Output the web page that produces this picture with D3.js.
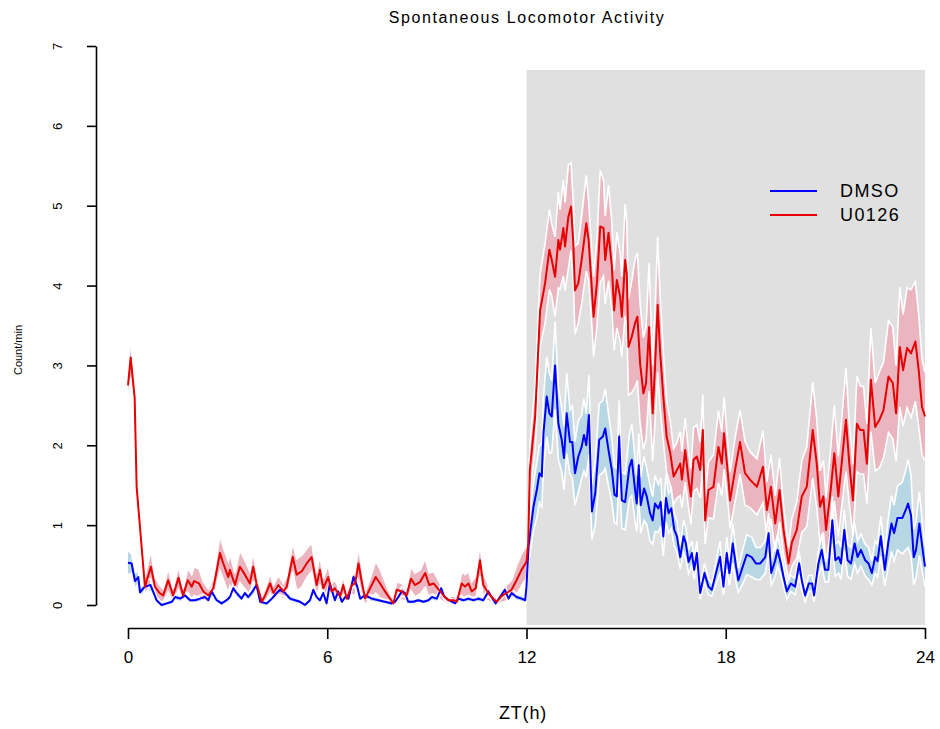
<!DOCTYPE html>
<html>
<head>
<meta charset="utf-8">
<script src="https://cdn.jsdelivr.net/npm/d3@7"></script>
<style>
  body { margin: 0; background: #fff; }
  svg text { font-family: "Liberation Sans", Arial, sans-serif; fill: #000; }
</style>
</head>
<body>
<div id="chart"></div>
<script>
// rows are [ZT hour, mean count/min, SE]
var dmso = [
  [0,0.53,0.15],[0.11,0.52,0.12],[0.21,0.3,0.1],[0.31,0.35,0.08],[0.36,0.16,0.06],[0.51,0.23,0.06],[0.68,0.25,0.08],[0.86,0.06,0.04],
  [1.01,0.0,0.03],[1.17,0.02,0.03],[1.32,0.04,0.03],[1.42,0.1,0.04],[1.57,0.08,0.04],[1.72,0.12,0.04],[1.87,0.06,0.03],[2.02,0.06,0.03],
  [2.17,0.08,0.04],[2.32,0.1,0.04],[2.42,0.06,0.03],[2.52,0.17,0.06],[2.67,0.06,0.03],[2.82,0.02,0.03],[2.97,0.06,0.03],[3.07,0.1,0.04],
  [3.17,0.21,0.06],[3.27,0.15,0.05],[3.42,0.08,0.04],[3.52,0.15,0.05],[3.62,0.1,0.04],[3.75,0.17,0.06],[3.87,0.25,0.08],[3.98,0.04,0.03],
  [4.18,0.02,0.03],[4.33,0.08,0.04],[4.48,0.15,0.05],[4.58,0.19,0.06],[4.73,0.15,0.05],[4.88,0.08,0.04],[5.03,0.06,0.03],[5.18,0.04,0.03],
  [5.33,0.0,0.03],[5.48,0.06,0.03],[5.58,0.19,0.06],[5.68,0.1,0.04],[5.78,0.06,0.03],[5.88,0.15,0.05],[5.98,0.02,0.03],[6.08,0.27,0.08],
  [6.23,0.06,0.03],[6.33,0.17,0.06],[6.44,0.04,0.03],[6.54,0.1,0.04],[6.64,0.08,0.04],[6.79,0.35,0.1],[6.89,0.25,0.08],[6.99,0.08,0.04],
  [7.14,0.12,0.04],[7.34,0.08,0.04],[7.54,0.06,0.03],[7.74,0.04,0.03],[7.94,0.02,0.03],[8.04,0.04,0.03],[8.14,0.1,0.04],[8.24,0.17,0.06],
  [8.34,0.15,0.05],[8.44,0.04,0.03],[8.59,0.04,0.03],[8.74,0.06,0.03],[8.9,0.04,0.03],[9.05,0.06,0.03],[9.15,0.1,0.04],[9.3,0.08,0.04],
  [9.43,0.21,0.06],[9.53,0.1,0.04],[9.67,0.06,0.03],[9.85,0.02,0.03],[9.95,0.08,0.04],[10.1,0.06,0.03],[10.25,0.08,0.04],[10.4,0.06,0.03],
  [10.55,0.08,0.04],[10.7,0.06,0.03],[10.85,0.17,0.06],[10.95,0.1,0.04],[11.07,0.02,0.03],[11.2,0.1,0.04],[11.35,0.19,0.06],[11.46,0.08,0.04],
  [11.55,0.15,0.05],[11.7,0.1,0.04],[11.85,0.08,0.04],[11.96,0.06,0.03],[12.0,0.23,0.08],[12.06,0.73,0.2],[12.11,0.9,0.25],[12.21,1.23,0.3],
  [12.31,1.44,0.35],[12.39,1.65,0.35],[12.46,1.61,0.4],[12.51,2.15,0.45],[12.61,2.61,0.5],[12.69,2.4,0.5],[12.76,2.36,0.45],[12.86,3.0,0.55],
  [12.96,2.27,0.45],[13.06,2.07,0.4],[13.13,1.84,0.4],[13.21,2.4,0.5],[13.31,2.04,0.4],[13.38,2.04,0.45],[13.46,1.65,0.4],[13.56,1.86,0.45],
  [13.66,1.98,0.4],[13.73,2.13,0.45],[13.8,2.0,0.4],[13.88,2.38,0.5],[13.97,1.17,0.35],[14.07,1.4,0.4],[14.19,2.07,0.45],[14.3,2.11,0.45],
  [14.37,2.21,0.5],[14.47,1.94,0.45],[14.57,1.69,0.4],[14.65,1.38,0.35],[14.72,1.36,0.35],[14.79,2.11,0.45],[14.87,1.31,0.35],[14.97,1.29,0.35],
  [15.1,1.73,0.4],[15.17,1.82,0.45],[15.27,1.44,0.4],[15.32,1.27,0.35],[15.38,1.75,0.4],[15.44,1.25,0.35],[15.54,1.46,0.4],[15.62,1.36,0.35],
  [15.72,1.15,0.35],[15.8,1.06,0.3],[15.87,1.27,0.35],[15.97,1.21,0.3],[16.04,1.29,0.3],[16.12,0.86,0.25],[16.2,1.34,0.3],[16.28,1.15,0.25],
  [16.36,1.21,0.25],[16.45,0.94,0.2],[16.53,0.86,0.2],[16.63,0.6,0.15],[16.73,0.86,0.2],[16.8,0.77,0.2],[16.88,0.54,0.15],[16.98,0.65,0.15],
  [17.05,0.44,0.12],[17.13,0.65,0.15],[17.23,0.15,0.08],[17.36,0.4,0.12],[17.48,0.23,0.1],[17.58,0.19,0.08],[17.73,0.44,0.15],[17.83,0.6,0.2],
  [17.93,0.23,0.1],[18.03,0.65,0.2],[18.11,0.4,0.15],[18.21,0.77,0.25],[18.31,0.48,0.2],[18.38,0.31,0.15],[18.48,0.44,0.2],[18.63,0.63,0.25],
  [18.78,0.6,0.25],[18.91,0.52,0.2],[19.04,0.52,0.2],[19.19,0.6,0.2],[19.29,0.9,0.25],[19.37,0.4,0.15],[19.49,0.56,0.2],[19.56,0.69,0.2],
  [19.66,0.52,0.15],[19.74,0.35,0.12],[19.84,0.17,0.1],[19.96,0.27,0.1],[20.09,0.23,0.1],[20.21,0.52,0.15],[20.29,0.31,0.12],[20.39,0.12,0.08],
  [20.5,0.27,0.1],[20.6,0.27,0.1],[20.66,0.12,0.08],[20.79,0.52,0.15],[20.89,0.69,0.2],[20.99,0.44,0.15],[21.09,0.44,0.15],[21.21,1.06,0.3],
  [21.3,0.56,0.2],[21.4,0.6,0.2],[21.47,0.52,0.2],[21.57,0.94,0.25],[21.67,0.56,0.2],[21.77,0.52,0.2],[21.88,0.77,0.25],[21.97,0.6,0.2],
  [22.07,0.69,0.2],[22.2,0.56,0.2],[22.3,0.52,0.2],[22.4,0.4,0.15],[22.5,0.6,0.2],[22.57,0.55,0.2],[22.67,0.86,0.25],[22.79,0.44,0.2],
  [22.89,0.77,0.3],[22.99,1.02,0.35],[23.07,0.9,0.35],[23.17,1.09,0.4],[23.32,1.09,0.45],[23.42,1.19,0.5],[23.49,1.27,0.55],[23.58,1.12,0.5],
  [23.66,0.6,0.35],[23.73,0.69,0.35],[23.83,1.02,0.4],[23.93,0.69,0.3],[24.0,0.48,0.25]
];

var u0126 = [
  [0,2.75,0.15],[0.08,3.1,0.25],[0.2,2.6,0.15],[0.26,1.48,0.12],[0.36,0.98,0.12],[0.51,0.23,0.12],[0.69,0.48,0.2],[0.81,0.23,0.12],
  [0.95,0.15,0.1],[1.06,0.12,0.08],[1.21,0.31,0.15],[1.36,0.12,0.08],[1.52,0.34,0.15],[1.66,0.12,0.08],[1.8,0.31,0.15],[1.92,0.23,0.15],
  [1.99,0.3,0.18],[2.14,0.27,0.18],[2.27,0.17,0.12],[2.42,0.12,0.08],[2.57,0.21,0.12],[2.77,0.65,0.22],[2.87,0.52,0.2],[3.02,0.35,0.2],
  [3.07,0.44,0.2],[3.22,0.25,0.15],[3.37,0.48,0.2],[3.52,0.38,0.18],[3.67,0.27,0.15],[3.77,0.48,0.18],[3.87,0.27,0.15],[4.03,0.04,0.06],
  [4.13,0.12,0.08],[4.28,0.27,0.12],[4.38,0.15,0.1],[4.53,0.25,0.12],[4.68,0.17,0.1],[4.78,0.23,0.12],[4.96,0.6,0.18],[5.08,0.38,0.2],
  [5.23,0.42,0.2],[5.38,0.52,0.18],[5.53,0.6,0.18],[5.68,0.25,0.15],[5.78,0.44,0.18],[5.88,0.21,0.12],[6.03,0.35,0.15],[6.13,0.17,0.1],
  [6.23,0.21,0.1],[6.39,0.11,0.08],[6.48,0.25,0.12],[6.59,0.08,0.06],[6.74,0.25,0.12],[6.84,0.27,0.15],[6.94,0.52,0.2],[7.04,0.29,0.18],
  [7.14,0.08,0.08],[7.29,0.21,0.12],[7.46,0.35,0.2],[7.59,0.27,0.18],[7.74,0.17,0.12],[7.89,0.08,0.06],[7.99,0.02,0.05],[8.09,0.19,0.1],
  [8.24,0.17,0.1],[8.39,0.12,0.08],[8.52,0.33,0.15],[8.64,0.25,0.15],[8.8,0.29,0.15],[8.95,0.4,0.18],[9.07,0.25,0.15],[9.2,0.27,0.15],
  [9.4,0.17,0.1],[9.5,0.12,0.08],[9.65,0.06,0.05],[9.8,0.06,0.05],[9.9,0.04,0.05],[10.05,0.27,0.15],[10.15,0.23,0.15],[10.25,0.27,0.15],
  [10.35,0.17,0.12],[10.47,0.21,0.15],[10.6,0.56,0.2],[10.7,0.25,0.15],[10.85,0.15,0.1],[11.0,0.08,0.06],[11.1,0.04,0.05],[11.25,0.11,0.08],
  [11.4,0.15,0.1],[11.55,0.19,0.12],[11.7,0.31,0.18],[11.85,0.44,0.2],[12.0,0.54,0.2],[12.05,0.75,0.2],[12.1,1.69,0.3],[12.26,2.36,0.4],
  [12.41,3.69,0.45],[12.56,4.03,0.5],[12.69,4.45,0.5],[12.76,4.32,0.45],[12.86,4.11,0.5],[12.96,4.57,0.6],[13.01,4.45,0.5],[13.11,4.72,0.6],
  [13.16,4.49,0.55],[13.26,4.86,0.65],[13.34,4.99,0.55],[13.41,4.53,0.5],[13.46,3.94,0.55],[13.56,4.03,0.5],[13.66,4.32,0.55],[13.8,4.78,0.6],
  [13.87,4.57,0.5],[13.97,3.94,0.45],[14.02,3.61,0.5],[14.12,4.03,0.55],[14.22,4.74,0.7],[14.32,4.72,0.6],[14.37,4.32,0.55],[14.47,4.66,0.6],
  [14.57,4.24,0.55],[14.64,3.69,0.5],[14.72,4.07,0.6],[14.82,3.86,0.55],[14.87,3.61,0.5],[14.97,4.32,0.7],[15.02,4.15,0.65],[15.07,3.23,0.6],
  [15.17,3.36,0.7],[15.27,3.53,0.8],[15.34,3.61,0.8],[15.42,3.03,0.75],[15.52,2.65,0.7],[15.6,2.78,0.7],[15.69,3.48,0.8],[15.8,2.4,0.6],
  [15.87,2.98,0.7],[15.95,3.76,0.85],[16.02,3.19,0.7],[16.12,2.61,0.55],[16.22,2.11,0.45],[16.33,1.9,0.4],[16.43,1.61,0.35],[16.53,1.69,0.35],
  [16.63,1.77,0.4],[16.68,1.57,0.35],[16.78,1.94,0.4],[16.88,1.57,0.35],[16.95,1.36,0.35],[17.03,1.82,0.4],[17.13,1.86,0.4],[17.23,1.69,0.35],
  [17.31,2.19,0.45],[17.38,1.06,0.3],[17.48,1.44,0.35],[17.63,1.48,0.4],[17.78,1.98,0.45],[17.88,1.77,0.4],[17.95,2.15,0.45],[18.08,1.57,0.35],
  [18.13,1.31,0.35],[18.28,1.69,0.4],[18.43,2.04,0.4],[18.58,1.65,0.4],[18.73,1.57,0.35],[18.94,1.48,0.35],[19.12,1.73,0.45],[19.24,1.19,0.35],
  [19.36,1.48,0.4],[19.49,1.02,0.35],[19.62,1.44,0.4],[19.74,0.94,0.3],[19.89,0.52,0.2],[19.99,0.78,0.3],[20.14,0.94,0.35],[20.29,1.36,0.45],
  [20.44,1.48,0.5],[20.62,2.19,0.6],[20.74,1.77,0.55],[20.84,1.23,0.45],[20.94,1.36,0.45],[21.02,0.94,0.4],[21.14,1.36,0.5],[21.27,1.9,0.6],
  [21.39,1.36,0.5],[21.49,1.77,0.55],[21.62,2.32,0.65],[21.72,1.77,0.5],[21.83,1.31,0.45],[21.95,2.27,0.6],[22.05,2.19,0.55],[22.15,2.19,0.55],
  [22.25,1.77,0.5],[22.37,2.82,0.65],[22.5,2.23,0.55],[22.63,2.32,0.6],[22.75,2.44,0.6],[22.9,2.86,0.7],[23.03,2.78,0.7],[23.13,2.4,0.6],
  [23.24,3.23,0.75],[23.34,2.94,0.7],[23.46,3.22,0.75],[23.58,3.15,0.8],[23.71,3.3,0.75],[23.81,2.94,0.7],[23.91,2.48,0.6],[24.0,2.36,0.55]
];

var xTicks = [0, 6, 12, 18, 24];
var yTicks = [0, 1, 2, 3, 4, 5, 6, 7];
var darkPhase = [12, 24];
var legendNames = ["DMSO", "U0126"];

var width = 940, height = 729;

var svg = d3.select("#chart").append("svg")
  .attr("width", width)
  .attr("height", height);

var x = d3.scaleLinear().domain([0, 24]).range([128, 925]);
var y = d3.scaleLinear().domain([0, 7]).range([605, 46]);

// dark phase
svg.append("rect")
  .attr("x", x(darkPhase[0]))
  .attr("y", y(6.7))
  .attr("width", x(darkPhase[1]) - x(darkPhase[0]))
  .attr("height", y(-0.25) - y(6.7))
  .attr("fill", "#e0e0e0");

var series = [
  { rows: dmso, line: "#0000ff", band: "#b8d7e5" },
  { rows: u0126, line: "#e60000", band: "#ebb5c0" }
];

var area = d3.area()
  .x(function(d) { return x(d[0]); })
  .y0(function(d) { return y(d[1] - d[2]); })
  .y1(function(d) { return y(d[1] + d[2]); });

var upper = d3.line().x(function(d) { return x(d[0]); }).y(function(d) { return y(d[1] + d[2]); });
var lower = d3.line().x(function(d) { return x(d[0]); }).y(function(d) { return y(d[1] - d[2]); });
var mean = d3.line().x(function(d) { return x(d[0]); }).y(function(d) { return y(d[1]); });

series.forEach(function(s) {
  svg.append("path").datum(s.rows).attr("d", area).attr("fill", s.band);
});
series.forEach(function(s) {
  [upper, lower].forEach(function(fn) {
    svg.append("path").datum(s.rows).attr("d", fn)
      .attr("fill", "none").attr("stroke", "#fff").attr("stroke-width", 1.6);
  });
});
series.forEach(function(s) {
  svg.append("path").datum(s.rows).attr("d", mean)
    .attr("fill", "none").attr("stroke", s.line).attr("stroke-width", 2)
    .attr("stroke-linejoin", "round");
});

// axes
var xAxis = svg.append("g")
  .attr("transform", "translate(0,628)")
  .call(d3.axisBottom(x).tickValues(xTicks).tickSize(11).tickSizeOuter(0).tickPadding(12));
xAxis.selectAll("text").attr("font-size", 17).attr("font-family", "Liberation Sans, Arial, sans-serif");

var yAxis = svg.append("g")
  .attr("transform", "translate(96,0)")
  .call(d3.axisLeft(y).tickValues(yTicks).tickFormat(d3.format("d")).tickSize(9).tickSizeOuter(0));
yAxis.selectAll(".tick text")
  .attr("font-size", 13)
  .attr("font-family", "Liberation Sans, Arial, sans-serif")
  .attr("transform", "translate(-39,0) rotate(-90)")
  .attr("x", 0).attr("y", 0).attr("dy", "0.35em")
  .attr("text-anchor", "middle");

svg.selectAll(".domain, .tick line").attr("stroke", "#000").attr("stroke-width", 1.6);

// titles
svg.append("text").attr("x", 527).attr("y", 23).attr("text-anchor", "middle")
  .attr("font-size", 16).style("letter-spacing", "1.6px")
  .text("Spontaneous Locomotor Activity");
svg.append("text").attr("x", 523).attr("y", 719).attr("text-anchor", "middle")
  .attr("font-size", 18).style("letter-spacing", "0.8px")
  .text("ZT(h)");
svg.append("text").attr("transform", "translate(22,350) rotate(-90)")
  .attr("text-anchor", "middle").attr("font-size", 11)
  .text("Count/min");

// legend
var legend = svg.append("g");
series.forEach(function(s, i) {
  var ly = 191 + i * 24;
  legend.append("line").attr("x1", 770).attr("x2", 817).attr("y1", ly).attr("y2", ly)
    .attr("stroke", s.line).attr("stroke-width", 2);
  legend.append("text").attr("x", 840).attr("y", ly).attr("dy", "0.36em")
    .attr("font-size", 18).style("letter-spacing", "1.4px")
    .text(legendNames[i]);
});
</script>
</body>
</html>
